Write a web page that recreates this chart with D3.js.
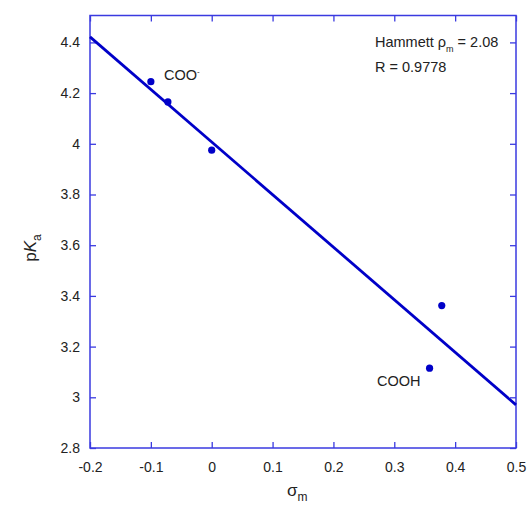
<!DOCTYPE html>
<html><head><meta charset="utf-8">
<script src="https://cdn.jsdelivr.net/npm/d3@7"></script>
<style>body{margin:0;background:#fff}svg{display:block}text{font-family:Arial,"Liberation Sans",sans-serif}</style>
</head><body>
<svg id="c" width="527" height="513"></svg>
<script>
const sigma = [-0.10, -0.072, 0.0, 0.378, 0.358];
const pKa = [4.245, 4.165, 3.975, 3.362, 3.115];
const fitX = [-0.2, 0.5];
const fitY = [4.422, 2.97];
const xTicks = [-0.2, -0.1, 0, 0.1, 0.2, 0.3, 0.4, 0.5];
const yTicks = [2.8, 3, 3.2, 3.4, 3.6, 3.8, 4, 4.2, 4.4];

const svg = d3.select("#c");
const L = 90, R = 516, B = 448, T = 15.5;
const x = d3.scaleLinear().domain([-0.2, 0.5]).range([L, R]);
const y = d3.scaleLinear().domain([2.8, 4.4]).range([B, 42.4]);
const axCol = "#3a3ae0", markCol = "#0000c8", txt = "#222";
const fmt = d => String(Math.round(d*10)/10);

svg.append("rect").attr("x", L).attr("y", T).attr("width", R - L).attr("height", B - T)
  .attr("fill", "none").attr("stroke", axCol).attr("stroke-width", 1.5);

function styleAxis(g){ g.select(".domain").remove(); g.selectAll("line").attr("stroke", axCol).attr("stroke-width",1.3);
  g.selectAll("text").attr("fill", txt).style("font-size","14px"); }

svg.append("g").attr("transform", `translate(0,${B})`)
  .call(d3.axisBottom(x).tickValues(xTicks).tickSize(-6).tickPadding(14).tickFormat(fmt))
  .call(styleAxis);
svg.append("g").attr("transform", `translate(0,${T})`)
  .call(d3.axisTop(x).tickValues(xTicks).tickSize(-6).tickFormat(""))
  .call(styleAxis);
svg.append("g").attr("transform", `translate(${L},0)`)
  .call(d3.axisLeft(y).tickValues(yTicks).tickSize(-6).tickPadding(10).tickFormat(fmt))
  .call(styleAxis);
svg.append("g").attr("transform", `translate(${R},0)`)
  .call(d3.axisRight(y).tickValues(yTicks).tickSize(-6).tickFormat(""))
  .call(styleAxis);

svg.append("line").attr("x1", x(fitX[0])).attr("y1", y(fitY[0])).attr("x2", x(fitX[1])).attr("y2", y(fitY[1]))
  .attr("stroke", markCol).attr("stroke-width", 2.8);

svg.selectAll("circle.p").data(sigma).join("circle").attr("class","p")
  .attr("cx", d => x(d)).attr("cy", (d,i) => y(pKa[i])).attr("r", 3.6).attr("fill", markCol);

// annotations
const t1 = svg.append("text").attr("x", 375).attr("y", 47).attr("fill", txt).style("font-size","14.5px");
t1.append("tspan").text("Hammett ");
t1.append("tspan").text("ρ");
t1.append("tspan").attr("dy", 5).style("font-size","9px").text("m");
t1.append("tspan").attr("dy", -5).text(" = 2.08");
svg.append("text").attr("x", 375).attr("y", 72).attr("fill", txt).style("font-size","14.5px").text("R = 0.9778");

const c1 = svg.append("text").attr("x", 164).attr("y", 80).attr("fill", txt).style("font-size","14.5px");
c1.append("tspan").text("COO");
c1.append("tspan").attr("dy", -6).style("font-size","8px").text("-");
svg.append("text").attr("x", 377).attr("y", 386).attr("fill", txt).style("font-size","14.5px").text("COOH");

// axis titles
const xl = svg.append("text").attr("x", 287).attr("y", 496).attr("fill", txt).style("font-size","17px");
xl.append("tspan").text("σ");
xl.append("tspan").attr("dy", 5).style("font-size","12px").text("m");

const yl = svg.append("text").attr("transform", "translate(36,248) rotate(-90)").attr("text-anchor","middle").attr("fill", txt).style("font-size","17px");
yl.append("tspan").text("p");
yl.append("tspan").style("font-style","italic").text("K");
yl.append("tspan").attr("dy", 5).style("font-size","12px").text("a");
</script>
</body></html>
